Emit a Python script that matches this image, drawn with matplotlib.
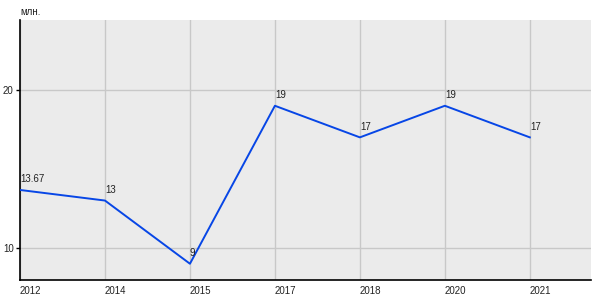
import matplotlib
matplotlib.use("Agg")
import matplotlib.pyplot as plt

years = ["2012", "2014", "2015", "2017", "2018", "2020", "2021"]
values = [13.67, 13, 9, 19, 17, 19, 17]
labels = ["13.67", "13", "9", "19", "17", "19", "17"]
yticks = [10, 20]

plt.rcParams['font.family'] = ['Liberation Sans', 'DejaVu Sans']

fig = plt.figure(figsize=(6, 3), dpi=100)
ax = fig.add_axes([20/600, 20/300, 571/600, 260/300])
ax.set_facecolor('#ebebeb')

x = list(range(len(years)))
ax.plot(x, values, color='#0746e6', lw=1.4, zorder=3)
for xi, v, lab in zip(x, values, labels):
    ax.annotate(lab, (xi, v), xytext=(0, 4), textcoords='offset points',
                ha='left', va='bottom', fontsize=7, color='#222222', zorder=4)

ax.set_xlim(0, 6.72)
ax.set_ylim(7.97, 24.43)
ax.set_xticks(x)
ax.set_xticklabels(years, ha='left', fontsize=7, color='#222222')
ax.set_yticks(yticks)
ax.set_yticklabels([str(t) for t in yticks], fontsize=7, color='#222222')
ax.tick_params(axis='x', length=0, pad=4)
ax.tick_params(axis='y', length=3, width=1, pad=1.5, color='#000000')
ax.grid(True, color='#c8c8c8', lw=1, zorder=0)
ax.set_axisbelow(True)
for s in ['top', 'right']:
    ax.spines[s].set_visible(False)
for s in ['left', 'bottom']:
    ax.spines[s].set_color('#000000')
    ax.spines[s].set_linewidth(1.2)

fig.text(20/600, 1 - 12/300, "млн.", fontsize=7, color='#222222', ha='left', va='center')

fig.savefig("out.png", dpi=100)
